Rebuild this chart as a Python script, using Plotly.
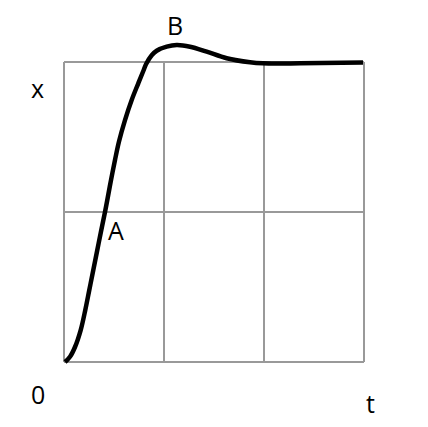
import plotly.graph_objects as go

# Curve samples (t, x)
t_vals = [0.01, 0.06, 0.11, 0.167, 0.213, 0.253, 0.293, 0.333, 0.373, 0.41, 0.433, 0.47, 0.51,
          0.55, 0.61, 0.677, 0.743, 0.793, 0.82, 0.877, 0.927, 1.027, 1.127, 1.26, 1.427,
          1.627, 1.86, 1.99, 2.36, 2.99]
x_vals = [0.0, 0.035, 0.10, 0.213, 0.347, 0.48, 0.613, 0.747, 0.88, 1.0, 1.08, 1.213, 1.347,
          1.47, 1.613, 1.747, 1.858, 1.94, 1.985, 2.045, 2.075, 2.102, 2.113, 2.102, 2.069,
          2.025, 1.998, 1.991, 1.991, 1.997]

grid_t = [0, 1, 2, 3]
grid_x = [0, 1, 2]

labels = ["x", "B", "A", "0", "t"]
label_t = [-0.27, 1.11, 0.52, -0.26, 3.06]
label_x = [1.83, 2.25, 0.88, -0.21, -0.27]

fig = go.Figure()

shapes = []
for gt in grid_t:
    shapes.append(dict(type="line", xref="x", yref="y", x0=gt, x1=gt, y0=0, y1=2,
                       line=dict(color="#999999", width=2), layer="below"))
for gx in grid_x:
    shapes.append(dict(type="line", xref="x", yref="y", x0=0, x1=3, y0=gx, y1=gx,
                       line=dict(color="#999999", width=2), layer="below"))

fig.add_trace(go.Scatter(x=t_vals, y=x_vals, mode="lines",
                         line=dict(color="black", width=4.5, shape="spline", smoothing=1.0),
                         hoverinfo="skip", showlegend=False))

annotations = [dict(x=a, y=b, text=s, showarrow=False, xref="x", yref="y",
                    font=dict(size=25, color="black", family="Open Sans"))
               for s, a, b in zip(labels, label_t, label_x)]

# page body has an 8px margin; figure sized to fit inside the window
fig.update_layout(
    width=412, height=411,
    margin=dict(l=0, r=0, t=0, b=0),
    paper_bgcolor="white", plot_bgcolor="white",
    xaxis=dict(range=[-0.56, 3.56], visible=False, fixedrange=True),
    yaxis=dict(range=[-0.38, 2.36], visible=False, fixedrange=True),
    shapes=shapes, annotations=annotations,
    showlegend=False,
)

fig.write_html("out.html")
